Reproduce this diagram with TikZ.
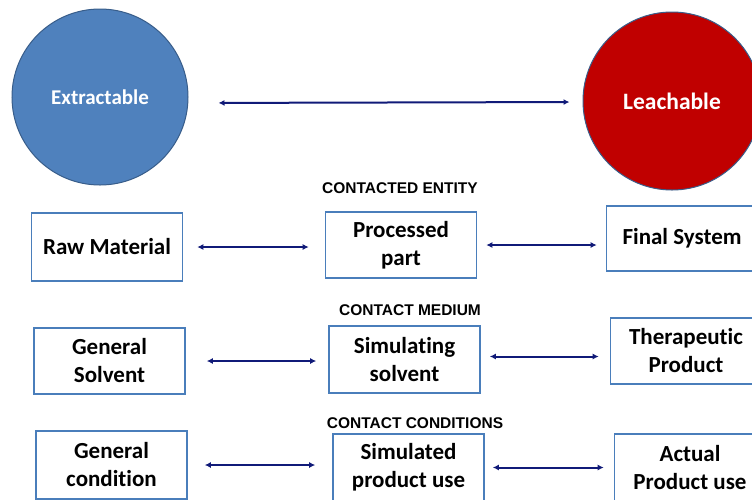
\documentclass[tikz,border=0pt]{standalone}
\usepackage{fontspec}
\setmainfont{Carlito}[Ligatures=NoCommon]
\newfontfamily\headfont{Liberation Sans}
\usetikzlibrary{arrows.meta}
\definecolor{extblue}{HTML}{4F81BD}
\definecolor{leared}{HTML}{C00000}
\definecolor{rimblue}{HTML}{385D8A}
\definecolor{boxblue}{HTML}{4A7EBB}
\definecolor{arrnavy}{HTML}{101A78}
\tikzset{
  bubble/.style={circle, draw=rimblue, line width=1pt, inner sep=0pt,
    minimum size=#1, text=white, font=\bfseries\fontsize{21}{24}\selectfont},
  elbox/.style={draw=boxblue, line width=1.6pt, fill=white, align=center,
    minimum width=151pt, minimum height=67pt, inner sep=2pt,
    font=\bfseries\fontsize{23}{28}\selectfont},
  rowhead/.style={font=\headfont\bfseries\fontsize{15.5}{17}\selectfont},
  link/.style={arrnavy, line width=2pt,
    {Latex[length=6pt,width=6pt]}-{Latex[length=6pt,width=6pt]}}
}
\begin{document}
\begin{tikzpicture}[x=1pt, y=-1pt]
\useasboundingbox (0,0) rectangle (752,499);
\clip (0,0) rectangle (752,499);

\node [bubble=176pt, fill=extblue] (extract) at (100,97) {Extractable};
\node [bubble=178pt, fill=leared, font=\bfseries\fontsize{23.5}{26}\selectfont] (leach) at (672,101) {Leachable};
\draw [link, shorten <=30pt, shorten >=13pt] ([yshift=-6pt]extract.east) -- ([yshift=-1pt]leach.west);

\node [rowhead] (entity) at (400,188) {CONTACTED ENTITY};
\node [elbox, minimum height=68pt] (raw) at (107,247) {Raw Material};
\node [elbox, minimum height=66pt] (part) at (401,245) {Processed\\part};
\node [elbox, minimum height=65pt] (final) at (682,238.5) {Final System};
\draw [link, shorten <=14pt, shorten >=16pt] (raw.east) -- (raw.east -| part.west);
\draw [link, shorten <=9pt, shorten >=9pt] (part.east) -- (part.east -| final.west);

\node [rowhead] (medium) at (410,310) {CONTACT MEDIUM};
\node [elbox, minimum height=66pt] (solvent) at (109.5,361) {General\\Solvent};
\node [elbox] (simsolv) at (404.5,359.5) {Simulating\\solvent};
\node [elbox, minimum height=66pt] (thera) at (686,351) {Therapeutic\\Product};
\draw [link, shorten <=21pt, shorten >=12pt] (solvent.east) -- (solvent.east -| simsolv.west);
\draw [link, shorten <=9pt, shorten >=11pt] ([yshift=3pt]simsolv.east) -- ([yshift=3pt]simsolv.east -| thera.west);

\node [rowhead] (cond) at (415,423) {CONTACT CONDITIONS};
\node [elbox, minimum height=68pt] (general) at (111.5,465) {General\\condition};
\node [elbox] (simuse) at (408.5,467.5) {Simulated\\product use};
\node [elbox] (actual) at (690,467.5) {Actual\\Product use};
\draw [link, shorten <=17pt, shorten >=17pt] (general.east) -- (general.east -| simuse.west);
\draw [link, shorten <=8pt, shorten >=10pt] (simuse.east) -- (simuse.east -| actual.west);
\end{tikzpicture}
\end{document}
